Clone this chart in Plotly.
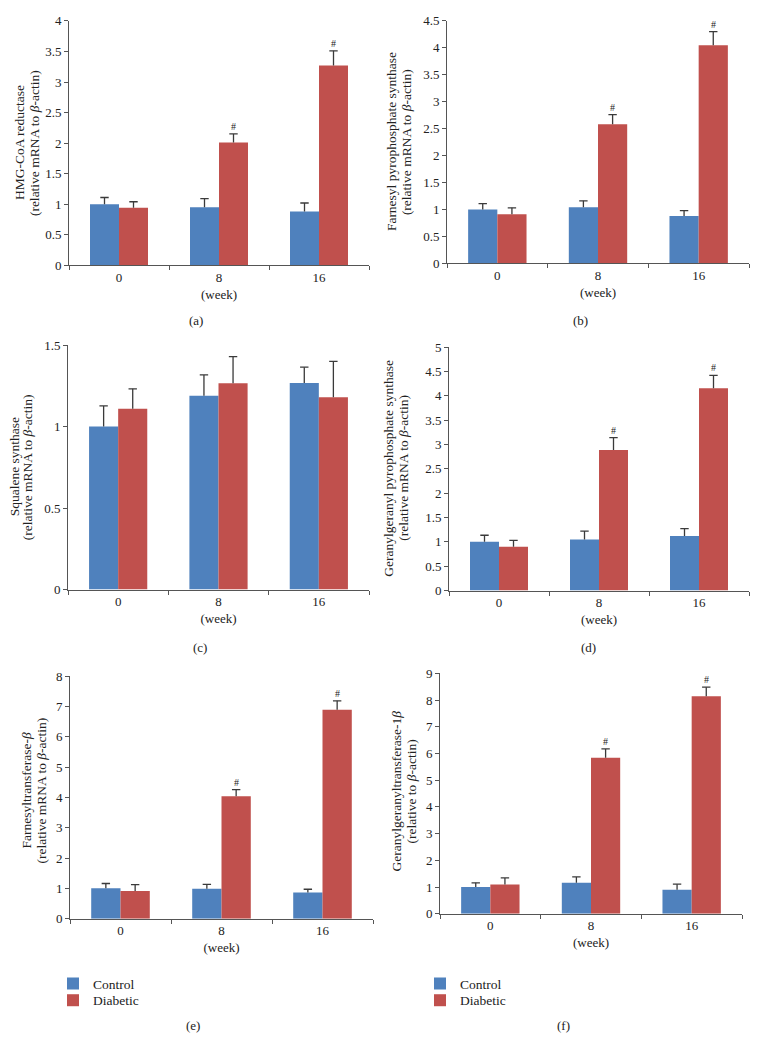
import plotly.graph_objects as go

# page is rendered with the default 8px body margin, so the figure is 16px smaller
PAGE_W, PAGE_H = 760, 1047
OFF = 8
W, H = PAGE_W - 2 * OFF, PAGE_H - 2 * OFF

weeks = ["0", "8", "16"]
week_pos = [0, 1, 2]

# panel data: bar heights and upper error (SE) values
a_ctrl = [1.00, 0.95, 0.88]
a_ctrl_err = [0.11, 0.14, 0.14]
a_diab = [0.94, 2.01, 3.27]
a_diab_err = [0.10, 0.14, 0.24]

b_ctrl = [1.00, 1.04, 0.88]
b_ctrl_err = [0.11, 0.12, 0.10]
b_diab = [0.91, 2.58, 4.05]
b_diab_err = [0.12, 0.18, 0.25]

c_ctrl = [1.00, 1.19, 1.268]
c_ctrl_err = [0.127, 0.127, 0.097]
c_diab = [1.11, 1.266, 1.18]
c_diab_err = [0.122, 0.164, 0.22]

d_ctrl = [1.00, 1.05, 1.12]
d_ctrl_err = [0.135, 0.17, 0.15]
d_diab = [0.90, 2.885, 4.155]
d_diab_err = [0.13, 0.255, 0.265]

e_ctrl = [1.00, 0.99, 0.86]
e_ctrl_err = [0.16, 0.14, 0.11]
e_diab = [0.91, 4.04, 6.895]
e_diab_err = [0.21, 0.22, 0.295]

f_ctrl = [1.00, 1.156, 0.90]
f_ctrl_err = [0.156, 0.22, 0.207]
f_diab = [1.094, 5.84, 8.14]
f_diab_err = [0.246, 0.33, 0.34]

# significance (#) flags for diabetic bars
a_sig = [False, True, True]
b_sig = [False, True, True]
c_sig = [False, False, False]
d_sig = [False, True, True]
e_sig = [False, True, True]
f_sig = [False, True, True]

y_title_line1 = [
    "HMG-CoA reductase",
    "Farnesyl pyrophosphate synthase",
    "Squalene synthase",
    "Geranylgeranyl pyrophosphate synthase",
    "Farnesyltransferase-<i>β</i>",
    "Geranylgeranyltransferase-1<i>β</i>",
]
y_title_line2 = [
    "(relative mRNA to <i>β</i>-actin)",
    "(relative mRNA to <i>β</i>-actin)",
    "(relative mRNA to <i>β</i>-actin)",
    "(relative mRNA to <i>β</i>-actin)",
    "(relative mRNA to <i>β</i>-actin)",
    "(relative to <i>β</i>-actin)",
]
y_ranges = [4, 4.5, 1.5, 5, 8, 9]
y_dticks = [0.5, 0.5, 0.5, 0.5, 1, 1]
panel_labels = ["(a)", "(b)", "(c)", "(d)", "(e)", "(f)"]
series_names = ["Control", "Diabetic"]

BLUE = "#4F81BD"
RED = "#C0504D"
ERR = "#3a3a3a"
AX = "#555555"
TXT = "#222222"
FONT = "Liberation Serif"

# layout geometry in page pixels: (left, right, top, bottom)
boxes = [
    (69, 369, 14, 262),
    (447, 749, 14, 260),
    (68, 369, 343, 591),
    (449, 749, 345, 592),
    (70, 373, 679, 925),
    (440, 742, 676, 920),
]
# x centres of the two y-title lines
title_x = [(19, 34), (391, 406), (14, 27), (388.5, 403.5), (27, 42), (397, 412)]
title_yc = [138, 137, 467, 468, 795, 796]
label_pos = [(196, 318), (580, 318), (200, 650), (588, 650), (193, 1033), (563, 1033)]
# legend rows: (legend left x, row centre y)
legend_rows = {
    "legend": (53, 991), "legend2": (53, 1008),
    "legend3": (420, 991), "legend4": (420, 1008),
}


def px(x):
    return (x - OFF) / W


def py(y):
    return 1 - (y - OFF) / H


data = [
    (a_ctrl, a_ctrl_err, a_diab, a_diab_err, a_sig),
    (b_ctrl, b_ctrl_err, b_diab, b_diab_err, b_sig),
    (c_ctrl, c_ctrl_err, c_diab, c_diab_err, c_sig),
    (d_ctrl, d_ctrl_err, d_diab, d_diab_err, d_sig),
    (e_ctrl, e_ctrl_err, e_diab, e_diab_err, e_sig),
    (f_ctrl, f_ctrl_err, f_diab, f_diab_err, f_sig),
]

fig = go.Figure()
annotations = []
BARGAP = 0.42
BW = (1 - BARGAP) / 2
offsets = {"Control": -BW / 2, "Diabetic": BW / 2}
legend_for = {(4, "Control"): "legend", (4, "Diabetic"): "legend2",
              (5, "Control"): "legend3", (5, "Diabetic"): "legend4"}

for i, (ctrl, ctrl_err, diab, diab_err, sig) in enumerate(data):
    n = i + 1
    xa = "x" if n == 1 else f"x{n}"
    ya = "y" if n == 1 else f"y{n}"
    for name, vals, errs, col in [("Control", ctrl, ctrl_err, BLUE), ("Diabetic", diab, diab_err, RED)]:
        lg = legend_for.get((i, name))
        tr = dict(
            x=week_pos, y=vals, name=name, marker=dict(color=col, line=dict(width=0)),
            error_y=dict(type="data", symmetric=False, array=errs, arrayminus=[0] * len(errs),
                         color=ERR, thickness=1.3, width=0),
            xaxis=xa, yaxis=ya, showlegend=lg is not None,
        )
        if lg:
            tr["legend"] = lg
        fig.add_trace(go.Bar(**tr))
        # error-bar caps (top only)
        fig.add_trace(go.Scatter(
            x=[p + offsets[name] for p in week_pos],
            y=[v + e for v, e in zip(vals, errs)],
            mode="markers", marker=dict(symbol="line-ew", size=6, color=ERR,
                                        line=dict(color=ERR, width=1.3)),
            xaxis=xa, yaxis=ya, showlegend=False, hoverinfo="skip"))
    # '#' markers above significant diabetic bars
    for k in range(len(weeks)):
        if sig[k]:
            annotations.append(dict(
                x=week_pos[k] + offsets["Diabetic"], y=diab[k] + diab_err[k], xref=xa, yref=ya,
                text="#", showarrow=False, yanchor="bottom", yshift=0,
                font=dict(family=FONT, size=10, color=TXT)))
    l, r, t, b = boxes[i]
    common = dict(showline=True, linecolor=AX, linewidth=1, showgrid=False, zeroline=False,
                  tickfont=dict(family=FONT, size=13, color=TXT))
    fig.layout[f"xaxis{'' if n == 1 else n}"] = dict(
        domain=[px(l), px(r)], anchor=ya, range=[-0.5, 2.5],
        tickmode="array", tickvals=week_pos, ticktext=weeks, ticks="",
        minor=dict(tickmode="array", tickvals=[-0.5, 0.5, 1.5, 2.5], ticks="outside",
                   ticklen=4, tickcolor=AX, showgrid=False),
        title=dict(text="(week)", font=dict(family=FONT, size=13, color=TXT), standoff=5),
        **common)
    fig.layout[f"yaxis{'' if n == 1 else n}"] = dict(
        domain=[py(b), py(t)], anchor=xa, range=[0, y_ranges[i]], dtick=y_dticks[i],
        tick0=0, ticks="outside", ticklen=4, tickcolor=AX, **common)
    for txt, tx in zip([y_title_line1[i], y_title_line2[i]], title_x[i]):
        annotations.append(dict(
            x=px(tx), y=py(title_yc[i]), xref="paper", yref="paper", text=txt,
            textangle=-90, showarrow=False, xanchor="center", yanchor="middle",
            font=dict(family=FONT, size=13.5, color=TXT)))
    lx, ly = label_pos[i]
    annotations.append(dict(
        x=px(lx), y=py(ly), xref="paper", yref="paper", text=panel_labels[i],
        showarrow=False, xanchor="center", yanchor="middle",
        font=dict(family=FONT, size=13, color=TXT)))

legend_layout = {}
for lg, (lx, ly) in legend_rows.items():
    legend_layout[lg] = dict(
        x=px(lx), y=py(ly), xanchor="left", yanchor="middle",
        font=dict(family=FONT, size=13.5, color=TXT), bgcolor="rgba(0,0,0,0)",
        tracegroupgap=0, itemclick=False, itemdoubleclick=False)

fig.update_layout(
    width=W, height=H, margin=dict(l=0, r=0, t=0, b=0),
    paper_bgcolor="white", plot_bgcolor="white",
    barmode="group", bargap=BARGAP, bargroupgap=0,
    annotations=annotations,
    **legend_layout,
)

fig.write_html("out.html")
